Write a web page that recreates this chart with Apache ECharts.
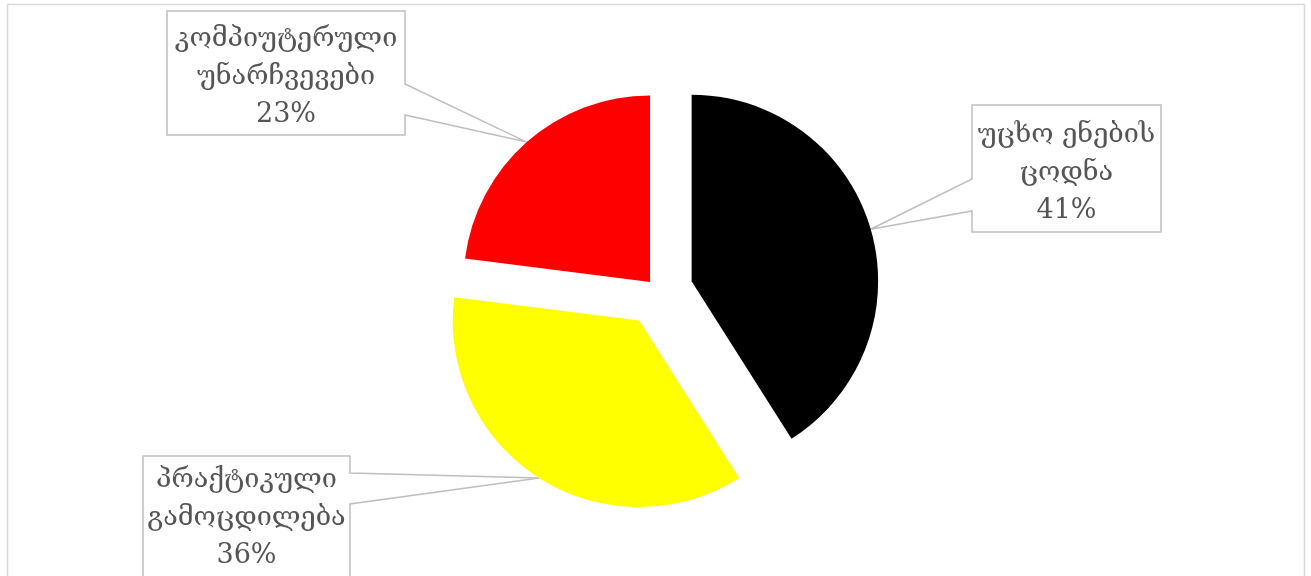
<!DOCTYPE html>
<html><head><meta charset="utf-8">
<script src="https://cdn.jsdelivr.net/npm/echarts@6/dist/echarts.min.js"></script>
<style>html,body{margin:0;padding:0;background:#fff}#c{width:1311px;height:576px}</style>
</head><body><div id="c"></div>
<script>
// ---- data ----
const categories = ['უცხო ენების\nცოდნა', 'პრაქტიკული\nგამოცდილება', 'კომპიუტერული\nუნარჩვევები'];
const values = [41, 36, 23];
const colors = ['#000000', '#ffff00', '#ff0000'];
const explode = [35, 35, 12];

// ---- layout ----
const pieCenter = [658, 291];
const pieRadius = 186.5;
const callouts = [
  { box: [972, 105, 1161, 232], side: 'left',  base: [179, 211], textY: 173 },
  { box: [143, 456, 350, 600], side: 'right', base: [473, 504], textY: 518 },
  { box: [167, 11, 405, 135],  side: 'right', base: [84, 115],  textY: 77 }
];

const chart = echarts.init(document.getElementById('c'), null, { renderer: 'canvas' });

const total = values.reduce((a, b) => a + b, 0);
let acc = 0;
const centers = values.map((v, i) => {
  const mid = (acc + v / 2) / total * 2 * Math.PI; // clockwise from 12 o'clock
  acc += v;
  return [pieCenter[0] + Math.sin(mid) * explode[i], pieCenter[1] - Math.cos(mid) * explode[i]];
});

function tipOf(si, di) {
  const data = chart.getModel().getSeriesByIndex(si).getData();
  const L = data.getItemLayout(di);
  const mid = (L.startAngle + L.endAngle) / 2;
  return [L.cx + Math.cos(mid) * L.r, L.cy + Math.sin(mid) * L.r];
}

function calloutPath(c, tip) {
  const [x0, y0, x1, y1] = c.box;
  const [b1, b2] = c.base;
  if (c.side === 'right') {
    return [tip, [x1, b2], [x1, y1], [x0, y1], [x0, y0], [x1, y0], [x1, b1], tip];
  }
  return [tip, [x0, b1], [x0, y0], [x1, y0], [x1, y1], [x0, y1], [x0, b2], tip];
}

const series = values.map((_, si) => ({
  type: 'pie',
  center: centers[si],
  radius: pieRadius,
  startAngle: 90,
  clockwise: true,
  avoidLabelOverlap: false,
  animation: false,
  emphasis: { disabled: true },
  label: {
    show: true,
    position: 'outside',
    formatter: p => p.name + '\n' + Math.round(p.percent) + '%',
    color: '#555555',
    fontFamily: 'DejaVu Serif',
    fontSize: 27,
    lineHeight: 38,
    align: 'center'
  },
  labelLine: { show: true, length: 10, length2: 10, lineStyle: { color: '#bfbfbf', width: 1.5 } },
  labelLayout: function (params) {
    const di = params.dataIndex;
    const c = callouts[di];
    let tip;
    try { tip = tipOf(si, di); } catch (e) { tip = params.labelLinePoints ? params.labelLinePoints[0] : [0, 0]; }
    return {
      x: (c.box[0] + c.box[2]) / 2,
      y: c.textY,
      align: 'center',
      verticalAlign: 'middle',
      labelLinePoints: calloutPath(c, tip)
    };
  },
  data: values.map((v, di) => {
    const own = di === si;
    return {
      name: categories[di],
      value: v,
      itemStyle: { color: own ? colors[di] : 'rgba(0,0,0,0)' },
      label: { show: own },
      labelLine: { show: own }
    };
  })
}));

chart.setOption({
  animation: false,
  graphic: [{
    type: 'rect', silent: true, z: -10,
    shape: { x: 7.5, y: 4.5, width: 1297, height: 620 },
    style: { fill: 'none', stroke: '#d9d9d9', lineWidth: 1.5 }
  }],
  series: series
});
</script></body></html>
